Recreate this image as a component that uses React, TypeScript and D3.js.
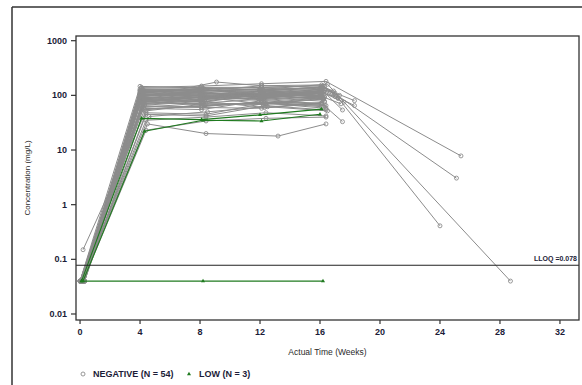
import React from 'react';
import * as d3 from 'd3';

// ---------- DATA ----------
const xTicks = [0, 4, 8, 12, 16, 20, 24, 28, 32];
const yTicks = [0.01, 0.1, 1, 10, 100, 1000];
const yTickLabels = ['0.01', '0.1', '1', '10', '100', '1000'];
const lloq = 0.078;

// NEGATIVE group (54 subjects), per nominal visit: actual time (weeks) and concentration (mg/L)
const negT0 = [
  0.1, 0.2, 0.1, 0.0, 0.1, 0.3, 0.1, 0.2, 0.1, 0.1,
  0.0, 0.2, 0.1, 0.3, 0.1, 0.1, 0.2, 0.0, 0.1, 0.2,
  0.1, 0.1, 0.3, 0.1, 0.0, 0.2, 0.1, 0.1, 0.2, 0.1,
  0.0, 0.1, 0.3, 0.1, 0.2, 0.1, 0.1, 0.0, 0.2, 0.1,
  0.1, 0.3, 0.1, 0.2, 0.0, 0.1, 0.1, 0.2, 0.1, 0.3,
  0.1, 0.1, 0.2, 0.1,
];
const negC0 = [
  0.04, 0.04, 0.04, 0.04, 0.04, 0.04, 0.04, 0.15, 0.04, 0.04,
  0.04, 0.04, 0.04, 0.04, 0.04, 0.04, 0.04, 0.04, 0.04, 0.04,
  0.04, 0.04, 0.04, 0.04, 0.04, 0.04, 0.04, 0.04, 0.04, 0.04,
  0.04, 0.04, 0.04, 0.04, 0.04, 0.04, 0.04, 0.04, 0.04, 0.04,
  0.04, 0.04, 0.04, 0.04, 0.04, 0.04, 0.04, 0.04, 0.04, 0.04,
  0.04, 0.04, 0.04, 0.04,
];
const negT4 = [
  4.1, 4.0, 4.3, 4.1, 4.2, 4.0, 4.1, 4.4, 4.1, 4.2,
  4.0, 4.3, 4.1, 4.1, 4.0, 4.2, 4.1, 4.3, 4.0, 4.4,
  4.1, 4.0, 4.2, 4.1, 4.3, 4.1, 4.0, 4.6, 4.1, 4.2,
  4.0, 4.1, 4.3, 4.1, 4.0, 4.2, 4.1, 4.1, 4.0, 4.4,
  4.2, 4.1, 4.3, 4.0, 4.1, 4.2, 4.1, 4.4, 4.0, 4.2,
  4.5, 4.1, 4.4, 4.1,
];
const negC4 = [
  95, 120, 78, 64, 110, 88, 135, 52, 102, 70,
  146, 83, 58, 115, 92, 74, 125, 66, 100, 48,
  87, 130, 105, 60, 79, 112, 94, 41, 118, 71,
  98, 85, 56, 140, 108, 76, 62, 90, 123, 35,
  82, 97, 68, 113, 54, 128, 86, 45, 103, 73,
  30, 93, 23, 80,
];
const negT8 = [
  8.1, 8.0, 8.2, 8.1, 8.3, 8.0, 8.1, 8.4, 8.1, 8.2,
  8.0, 8.3, 8.1, 8.1, 8.0, 8.2, 8.1, 8.3, 8.0, 8.4,
  8.1, 8.0, 8.2, 8.1, 8.3, 8.1, 8.0, 8.5, 8.1, 8.2,
  8.0, 8.1, 8.3, 8.1, 8.0, 8.2, 8.1, 8.1, 8.0, 8.4,
  8.2, 8.1, 8.3, 8.0, 8.1, 8.2, 8.1, 8.4, 8.0, 8.2,
  8.4, 9.1, 8.4, 8.1,
];
const negC8 = [
  112, 118, 95, 62, 130, 80, 140, 70, 96, 88,
  138, 100, 55, 128, 84, 92, 120, 78, 115, 45,
  104, 126, 98, 72, 66, 132, 90, 50, 110, 85,
  118, 76, 64, 148, 102, 94, 60, 108, 124, 40,
  75, 114, 82, 106, 65, 134, 99, 42, 122, 70,
  20, 175, 34, 92,
];
const negT12 = [
  12.1, 12.0, 12.2, 12.1, 12.3, 12.0, 12.1, 12.4, 12.1, 12.2,
  12.0, 12.3, 12.1, 12.1, 12.0, 12.2, 12.1, 12.3, 12.0, 12.4,
  12.1, 12.0, 12.2, 12.1, 12.3, 12.1, 12.0, 12.5, 12.1, 12.2,
  12.0, 12.1, 11.9, 12.1, 12.0, 12.2, 12.1, 12.1, 12.0, 12.4,
  12.2, 12.1, 12.3, 12.0, 12.1, 12.2, 12.1, 12.4, 12.0, 12.2,
  13.2, 12.1, 12.4, 12.1,
];
const negC12 = [
  88, 132, 110, 75, 100, 118, 140, 70, 95, 98,
  128, 105, 80, 98, 122, 70, 150, 60, 120, 72,
  110, 118, 95, 85, 72, 140, 88, 62, 105, 100,
  92, 110, 75, 163, 98, 102, 58, 115, 120, 48,
  105, 88, 90, 108, 75, 125, 80, 65, 130, 68,
  18, 150, 38, 88,
];
const negT16 = [
  16.1, 16.0, 16.2, 16.1, 16.3, 16.0, 16.2, 16.4, 16.1, 16.2,
  16.5, 16.3, 16.1, 16.1, 16.0, 16.2, 16.1, 16.3, 16.0, 16.4,
  16.1, 16.3, 16.2, 16.1, 16.3, 16.1, 16.0, 16.5, 16.1, 16.2,
  16.0, 16.1, 16.3, 16.4, 16.0, 16.2, 16.1, 16.1, 16.0, 16.4,
  16.2, 16.1, 16.3, 16.0, 16.1, 16.2, 16.1, 16.4, 16.0, 16.2,
  16.4, 16.1, 16.4, 16.1,
];
const negC16 = [
  110, 130, 92, 72, 125, 98, 150, 65, 115, 85,
  160, 95, 68, 122, 105, 88, 140, 75, 112, 58,
  98, 145, 118, 70, 92, 128, 108, 52, 130, 84,
  110, 96, 66, 180, 120, 88, 72, 100, 135, 42,
  93, 108, 78, 126, 62, 142, 97, 54, 116, 86,
  30, 155, 40, 92,
];
// follow-up samples (subset of subjects)
const followSubject = [0, 4, 6, 8, 13, 16, 25, 28, 31, 36, 38, 45];
const followTime = [17.0, 17.3, 17.2, 17.6, 17.2, 18.3, 17.5, 18.3, 17.4, 17.5, 17.0, 16.9];
const followConc = [95, 100, 90, 75, 88, 80, 54, 65, 70, 33, 110, 120];
// late washout samples
const lateSubject = [6, 10, 21, 33];
const lateTime = [24.0, 28.7, 25.1, 25.4];
const lateConc = [0.41, 0.04, 3.06, 7.8];

// LOW group (3 subjects)
const lowTimes = [
  [0.1, 4.1, 8.1, 12.0, 16.1],
  [0.2, 4.3, 8.2, 12.1, 16.0],
  [0.1, 8.2, 16.2],
];
const lowConcs = [
  [0.04, 38, 36, 44, 56],
  [0.04, 22, 35, 34, 45],
  [0.04, 0.04, 0.04],
];

const legendLabels = ['NEGATIVE (N = 54)', 'LOW (N = 3)'];

// ---------- LAYOUT ----------
const W = 582;
const H = 385;
const L = 76, R = 579, T = 36, B = 320;
const GRAY = '#8c8c8c';
const GREEN = '#1f7a1f';
const TXT = '#1c1c38';
const FONT = '"Liberation Sans", Arial, sans-serif';

const x = d3.scaleLinear().domain([-0.27, 33.27]).range([L, R]);
const y = d3.scaleLog().domain([Math.pow(10, -2.11), Math.pow(10, 3.086)]).range([B, T]);
const line = d3.line<[number, number]>().x(d => x(d[0])).y(d => y(d[1]));
const tri = d3.symbol().type(d3.symbolTriangle).size(7)() as string;

function buildNegative(): [number, number][][] {
  const subj: [number, number][][] = [];
  for (let i = 0; i < negC0.length; i++) {
    const pts: [number, number][] = [
      [negT0[i], negC0[i]],
      [negT4[i], negC4[i]],
      [negT8[i], negC8[i]],
      [negT12[i], negC12[i]],
      [negT16[i], negC16[i]],
    ];
    followSubject.forEach((s, k) => { if (s === i) pts.push([followTime[k], followConc[k]]); });
    lateSubject.forEach((s, k) => { if (s === i) pts.push([lateTime[k], lateConc[k]]); });
    pts.sort((a, b) => a[0] - b[0]);
    subj.push(pts.filter(p => p[0] != null && p[1] != null));
  }
  return subj;
}

export default function App() {
  const neg = buildNegative();
  const low: [number, number][][] = lowTimes.map((ts, i) => ts.map((t, j) => [t, lowConcs[i][j]] as [number, number]));
  const yL = y(lloq);
  return (
    <svg width={W} height={H} style={{ position: 'absolute', left: 0, top: 0, background: '#fff' }} fontFamily={FONT}>
      <rect x={0} y={0} width={W} height={H} fill="#fff" />
      {/* outer frame */}
      <line x1={12} y1={7} x2={W} y2={7} stroke="#333" strokeWidth={1.5} />
      <line x1={12} y1={7} x2={12} y2={H} stroke="#333" strokeWidth={1.5} />

      {/* negative subjects */}
      <g>
        {neg.map((pts, i) => (
          <g key={i}>
            <path d={line(pts) as string} fill="none" stroke={GRAY} strokeWidth={1} />
            {pts.map((p, j) => (
              <circle key={j} cx={x(p[0])} cy={y(p[1])} r={2} fill="none" stroke={GRAY} strokeWidth={0.9} />
            ))}
          </g>
        ))}
      </g>
      {/* low subjects */}
      <g>
        {low.map((pts, i) => (
          <g key={i}>
            <path d={line(pts) as string} fill="none" stroke={GREEN} strokeWidth={1.1} />
            {pts.map((p, j) => (
              <path key={j} d={tri} transform={`translate(${x(p[0])},${y(p[1])})`} fill={GREEN} />
            ))}
          </g>
        ))}
      </g>

      {/* LLOQ */}
      <line x1={L} x2={R} y1={yL} y2={yL} stroke="#222" strokeWidth={1.2} />
      <text x={577} y={yL - 4} fontSize={7} fontWeight="bold" textAnchor="end" fill={TXT}>LLOQ =0.078</text>

      {/* frame */}
      <rect x={L} y={T} width={R - L} height={B - T} fill="none" stroke="#333" strokeWidth={1.3} />

      {/* y axis */}
      {yTicks.map((v, i) => (
        <g key={v}>
          <line x1={L - 5} x2={L} y1={y(v)} y2={y(v)} stroke="#333" strokeWidth={1.2} />
          <text x={67} y={y(v) + 3} fontSize={9} fontWeight="bold" textAnchor="end" fill={TXT}>{yTickLabels[i]}</text>
        </g>
      ))}
      <text transform={`translate(30,${(T + B) / 2}) rotate(-90)`} fontSize={8} textAnchor="middle" fill="#2a2a2a">Concentration (mg/L)</text>

      {/* x axis */}
      {xTicks.map(v => (
        <g key={v}>
          <line x1={x(v)} x2={x(v)} y1={B} y2={B + 4} stroke="#333" strokeWidth={1.2} />
          <text x={x(v)} y={335} fontSize={9} fontWeight="bold" textAnchor="middle" fill={TXT}>{v}</text>
        </g>
      ))}
      <text x={(L + R) / 2} y={355} fontSize={8.5} textAnchor="middle" fill="#2a2a2a">Actual Time (Weeks)</text>

      {/* legend */}
      <circle cx={83} cy={374} r={2} fill="none" stroke={GRAY} strokeWidth={0.9} />
      <text x={93} y={377} fontSize={9} fontWeight="bold" fill={TXT}>{legendLabels[0]}</text>
      <path d={tri} transform="translate(189,374)" fill={GREEN} />
      <text x={199} y={377} fontSize={9} fontWeight="bold" fill={TXT}>{legendLabels[1]}</text>
    </svg>
  );
}
